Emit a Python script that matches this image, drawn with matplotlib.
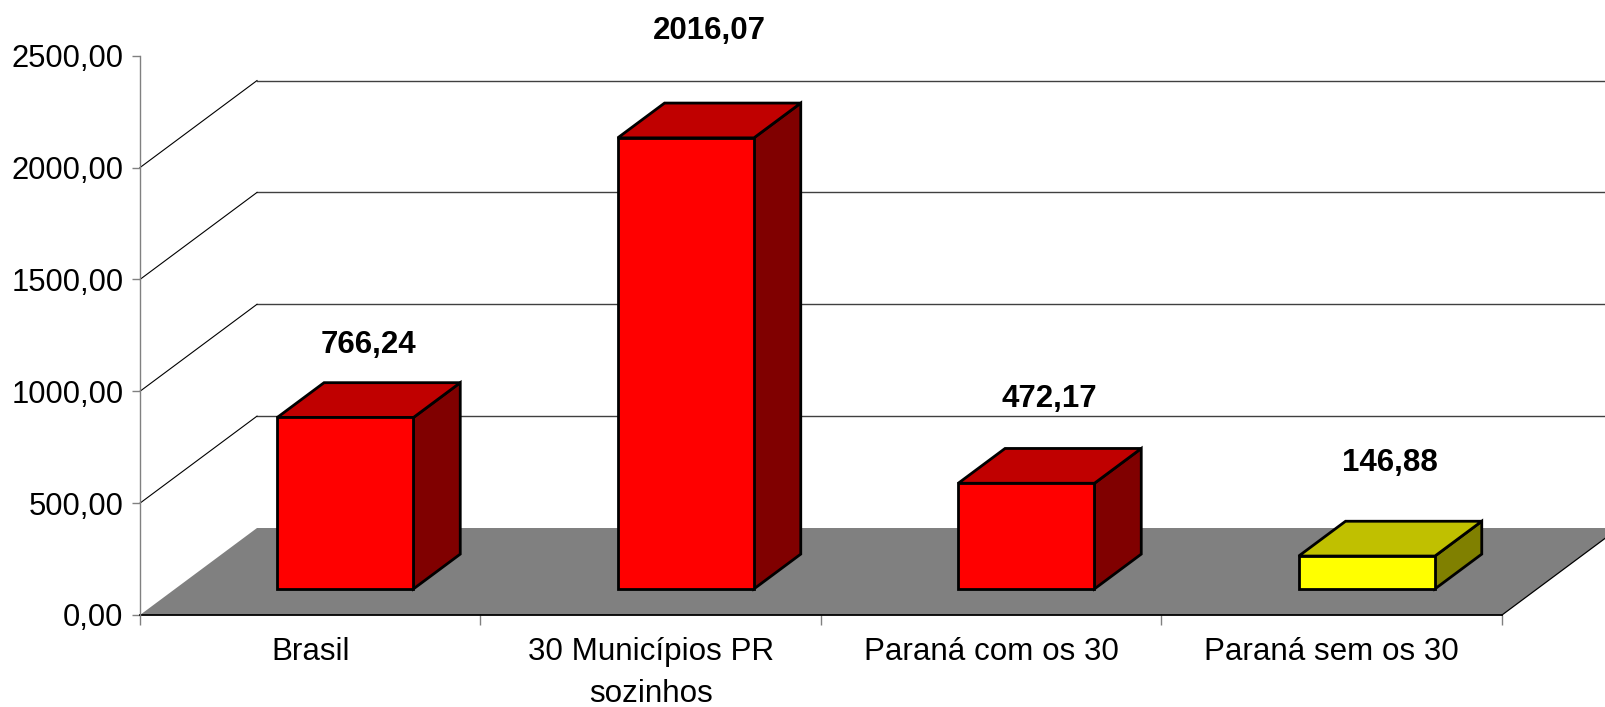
import matplotlib
matplotlib.use("Agg")
import matplotlib.pyplot as plt
from matplotlib.patches import Polygon

plt.rcParams['font.family'] = ['Liberation Sans', 'DejaVu Sans']

categories = ["Brasil", "30 Municípios PR\nsozinhos", "Paraná com os 30", "Paraná sem os 30"]
values = [766.24, 2016.07, 472.17, 146.88]
value_labels = ["766,24", "2016,07", "472,17", "146,88"]
y_ticks = [0, 500, 1000, 1500, 2000, 2500]
y_tick_labels = ["0,00", "500,00", "1000,00", "1500,00", "2000,00", "2500,00"]

# styles
front_colors = ["#FF0000", "#FF0000", "#FF0000", "#FFFF00"]
top_colors = ["#C00000", "#C00000", "#C00000", "#C0C000"]
side_colors = ["#800000", "#800000", "#800000", "#808000"]
label_pad_px = [99, 133, 110, 119]

W, H = 1606, 707
fig = plt.figure(figsize=(W / 100, H / 100), dpi=100)
fig.patch.set_facecolor("white")
ax = fig.add_axes([140 / W, 92 / H, 1362 / W, 559.3 / H])
ax.set_xlim(0, 4)
ax.set_ylim(0, 2500)
ax.set_facecolor("none")

# oblique depth in data units
DX = 117 / 340.5
DY = 87 / (559.3 / 2500)

# floor
floor = Polygon([(0, 0), (4, 0), (4 + DX, DY), (DX, DY)], closed=True,
                facecolor="#808080", edgecolor="none", clip_on=False, zorder=1)
ax.add_patch(floor)
ax.plot([4, 4 + DX], [0, DY], color="black", lw=0.9, clip_on=False, zorder=2)

# back wall gridlines and side wall diagonals
for t in y_ticks[1:-1]:
    ax.plot([DX, 4 + DX], [t + DY, t + DY], color="#404040", lw=1.0, clip_on=False, zorder=1.5)
    ax.plot([0, DX], [t, t + DY], color="black", lw=0.8, clip_on=False, zorder=1.5)

# bars
w = 0.4
f0 = 0.3
d = 0.4
for i, v in enumerate(values):
    xl = i + (1 - w) / 2 + f0 * DX
    yb = f0 * DY
    ddx, ddy = d * DX, d * DY
    front = [(xl, yb), (xl + w, yb), (xl + w, yb + v), (xl, yb + v)]
    top = [(xl, yb + v), (xl + w, yb + v), (xl + w + ddx, yb + v + ddy), (xl + ddx, yb + v + ddy)]
    side = [(xl + w, yb), (xl + w + ddx, yb + ddy), (xl + w + ddx, yb + v + ddy), (xl + w, yb + v)]
    for pts, c in ((side, side_colors[i]), (top, top_colors[i]), (front, front_colors[i])):
        ax.add_patch(Polygon(pts, closed=True, facecolor=c, edgecolor="black",
                             lw=2.0, joinstyle="miter", clip_on=False, zorder=3))
    ax.annotate(value_labels[i], xy=(i + 0.5 + 0.5 * DX, v), xytext=(0, label_pad_px[i] * 0.72),
                textcoords="offset points", ha="center", va="center",
                fontsize=22.5, fontweight="bold", color="black", annotation_clip=False, zorder=5)

# axes styling
for s in ("top", "right"):
    ax.spines[s].set_visible(False)
ax.spines["left"].set_color("#808080")
ax.spines["left"].set_linewidth(1.0)
ax.spines["bottom"].set_color("black")
ax.spines["bottom"].set_linewidth(1.3)
ax.spines["bottom"].set_zorder(2)

ax.set_yticks(y_ticks)
ax.set_yticklabels(y_tick_labels)
ax.tick_params(axis="y", direction="out", length=6, width=1.0, color="#808080",
               pad=6, labelsize=22.3, labelcolor="black")

ax.set_xticks([0, 1, 2, 3, 4])
ax.set_xticklabels([])
ax.tick_params(axis="x", which="major", direction="out", length=7.2, width=1.0, color="#808080")
ax.set_xticks([0.5, 1.5, 2.5, 3.5], minor=True)
ax.set_xticklabels(categories, minor=True, fontsize=22.6, linespacing=1.5)
ax.tick_params(axis="x", which="minor", length=0, pad=16, labelcolor="black")

fig.savefig("out.png", dpi=100, facecolor="white")
